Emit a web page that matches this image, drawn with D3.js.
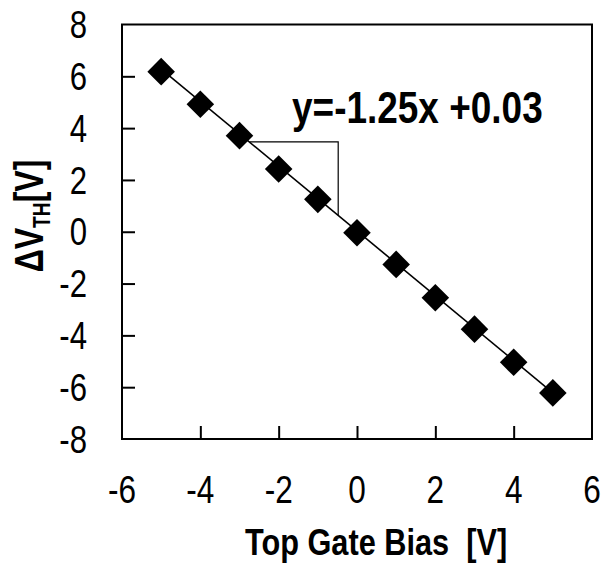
<!DOCTYPE html>
<html>
<head>
<meta charset="utf-8">
<script src="https://cdn.jsdelivr.net/npm/d3@7"></script>
<style>
  html, body { margin: 0; padding: 0; background: #fff; }
  svg { display: block; }
  text { font-family: "Liberation Sans Narrow", "Arial Narrow", "Liberation Sans", Arial, sans-serif; fill: #000; white-space: pre; }
</style>
</head>
<body>
<svg id="chart" width="608" height="568"></svg>
<script>
// Threshold-voltage shift versus top gate bias
const biasValues = [-5, -4, -3, -2, -1, 0, 1, 2, 3, 4, 5];
const deltaVth   = [6.18, 4.92, 3.71, 2.42, 1.25, -0.04, -1.26, -2.55, -3.76, -5.04, -6.22];
const xTicks = [-6, -4, -2, 0, 2, 4, 6];
const yTicks = [-8, -6, -4, -2, 0, 2, 4, 6, 8];
const fitSlope = -1.25;
const fitIntercept = 0.03;
const slopeTriangleX = [-2.75, -0.48];

const svg = d3.select("#chart");
const plotLeft = 122, plotRight = 592, plotTop = 24.5, plotBottom = 439;
const condense = 0.82;   // horizontal squeeze for a narrow typeface look

const x = d3.scaleLinear().domain([-6, 6]).range([plotLeft, plotRight]);
const y = d3.scaleLinear().domain([-8, 8]).range([plotBottom, plotTop]);
const fit = v => fitSlope * v + fitIntercept;

// Inner tick marks
const tickLen = 13;
const xAxis = d3.axisBottom(x).tickValues(xTicks.filter(t => t > -6 && t < 6))
  .tickSizeInner(-tickLen).tickSizeOuter(0).tickFormat("");
svg.append("g").attr("transform", `translate(0,${plotBottom})`).call(xAxis)
  .call(g => g.select(".domain").remove())
  .call(g => g.selectAll("line").attr("stroke", "#000").attr("stroke-width", 2));

const yAxis = d3.axisLeft(y).tickValues(yTicks.filter(t => t > -8 && t < 8))
  .tickSizeInner(-tickLen).tickSizeOuter(0).tickFormat("");
svg.append("g").attr("transform", `translate(${plotLeft},0)`).call(yAxis)
  .call(g => g.select(".domain").remove())
  .call(g => g.selectAll("line").attr("stroke", "#000").attr("stroke-width", 2));

// Plot frame
svg.append("rect")
  .attr("x", plotLeft).attr("y", plotTop)
  .attr("width", plotRight - plotLeft).attr("height", plotBottom - plotTop)
  .attr("fill", "none").attr("stroke", "#000").attr("stroke-width", 2);

// Tick labels
svg.append("g").selectAll("text").data(xTicks).join("text")
  .attr("transform", d => `translate(${x(d)},502.5) scale(${condense},1)`)
  .attr("text-anchor", "middle")
  .style("font-size", "38.5px")
  .text(d => d);

svg.append("g").selectAll("text").data(yTicks).join("text")
  .attr("transform", d => `translate(87,${y(d)}) scale(${condense},1)`)
  .attr("dy", "0.36em")
  .attr("text-anchor", "end")
  .style("font-size", "38px")
  .text(d => d);

// Linear fit line
svg.append("line")
  .attr("x1", x(biasValues[0])).attr("y1", y(fit(biasValues[0])))
  .attr("x2", x(biasValues[biasValues.length - 1])).attr("y2", y(fit(biasValues[biasValues.length - 1])))
  .attr("stroke", "#000").attr("stroke-width", 1.6);

// Slope triangle
const [tx0, tx1] = slopeTriangleX;
svg.append("path")
  .attr("d", `M${x(tx0)},${y(fit(tx0))}H${x(tx1)}V${y(fit(tx1))}`)
  .attr("fill", "none").attr("stroke", "#000").attr("stroke-width", 1.2);

// Diamond markers
const diamond = d3.symbol().type(d3.symbolSquare).size(380);
svg.append("g").selectAll("path").data(biasValues).join("path")
  .attr("d", diamond)
  .attr("transform", (d, i) => `translate(${x(d)},${y(deltaVth[i])}) rotate(45)`)
  .attr("fill", "#000");

// Fit equation
svg.append("text")
  .attr("transform", `translate(292,123) scale(0.84,1)`)
  .style("font-size", "44px").style("font-weight", "bold")
  .text(`y=${fitSlope}x +${fitIntercept.toFixed(2)}`);

// Axis titles
svg.append("text")
  .attr("transform", `translate(376,555) scale(0.83,1)`)
  .attr("text-anchor", "middle")
  .style("font-size", "37px").style("font-weight", "bold")
  .text("Top Gate Bias  [V]");

const yTitle = svg.append("text")
  .attr("transform", `translate(43,216) rotate(-90) scale(0.8,1)`)
  .attr("text-anchor", "middle")
  .style("font-size", "40px").style("font-weight", "bold");
yTitle.append("tspan").text("ΔV");
yTitle.append("tspan").attr("dy", 7).style("font-size", "24px").text("TH");
yTitle.append("tspan").attr("dy", -7).text("[V]");
</script>
</body>
</html>
